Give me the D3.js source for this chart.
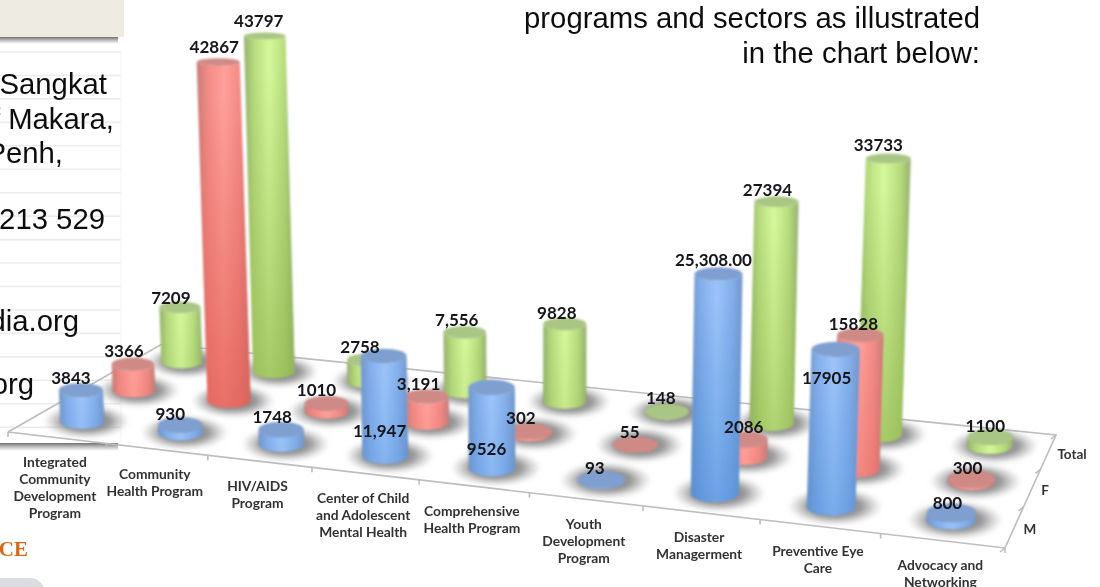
<!DOCTYPE html>
<html><head><meta charset="utf-8">
<script src="https://cdn.jsdelivr.net/npm/d3@7/dist/d3.min.js"></script>
<style>html,body{margin:0;padding:0;background:#fff;overflow:hidden}svg{display:block}</style>
</head><body><svg id="c" width="1100" height="587"></svg>
<script>
// ---- data ----
const categories = [
  ["Integrated","Community","Development","Program"],
  ["Community","Health Program"],
  ["HIV/AIDS","Program"],
  ["Center of Child","and Adolescent","Mental Health"],
  ["Comprehensive","Health Program"],
  ["Youth","Development","Program"],
  ["Disaster","Managerment"],
  ["Preventive Eye","Care"],
  ["Advocacy and","Networking"]
];
const rowNames = ["M","F","Total"];
const valuesM = [3843,930,1748,11947,9526,93,25308,17905,800];
const valuesF = [3366,42867,1010,3191,302,55,2086,15828,300];
const valuesTotal = [7209,43797,2758,7556,9828,148,27394,33733,1100];
const labelsM = ["3843","930","1748","11,947","9526","93","25,308.00","17905","800"];
const labelsF = ["3366","42867","1010","3,191","302","55","2086","15828","300"];
const labelsTotal = ["7209","43797","2758","7,556","9828","148","27394","33733","1100"];
// label nudges relative to the top of each cylinder [dx, dy]
const nudgeM = [[-10,-12],[-10,-11],[-9,-12],[-4,75],[-5,62],[-7,-12],[-5,-14],[-9,29],[-4,-10]];
const nudgeF = [[-9,-13],[-4,-15],[-10,-13],[-8,-12],[-9,-13],[-6,-12],[-1,-12],[-7,-11],[-4,-11]];
const nudgeTotal = [[-9,-9],[-6,-15],[-8,-13],[-8,-12],[-8,-11],[-6,-13],[-9,-12],[-10,-14],[-5,-11]];
const sideLines = [
  {t:"Sangkat",x:107,y:94},{t:"of Makara,",x:114,y:129},{t:"Penh,",x:63,y:163},
  {t:"213 529",x:105,y:229},{t:"dia.org",x:79,y:331},{t:"org",x:34,y:394}
];
const introLines = [{t:"programs and sectors as illustrated",y:28},{t:"in the chart below:",y:63}];

// ---- projection of the floor plane: unit square -> picture ----
const P00=[8,432],P10=[1005,548],P11=[1056,435],P01=[162,344];
const markShift=-2;
function homography(p0,p1,p2,p3){ // (0,0),(1,0),(1,1),(0,1)
  const dx1=p1[0]-p2[0],dx2=p3[0]-p2[0],sx=p0[0]-p1[0]+p2[0]-p3[0];
  const dy1=p1[1]-p2[1],dy2=p3[1]-p2[1],sy=p0[1]-p1[1]+p2[1]-p3[1];
  const den=dx1*dy2-dx2*dy1;
  const g=(sx*dy2-dx2*sy)/den,h=(dx1*sy-sx*dy1)/den;
  const a=p1[0]-p0[0]+g*p1[0],b=p3[0]-p0[0]+h*p3[0],c=p0[0];
  const d=p1[1]-p0[1]+g*p1[1],e=p3[1]-p0[1]+h*p3[1],f=p0[1];
  return (u,v)=>{const w=g*u+h*v+1;return [(a*u+b*v+c)/w,(d*u+e*v+f)/w];};
}
const project=homography(P00,P10,P11,P01);
const xBand=d3.scaleBand().domain(d3.range(categories.length)).range([0,1]);
const rowBand=d3.scaleBand().domain(rowNames).range([0,1]);
const heightPerValue=d3.scaleLinear().domain([370,510]).range([.00765,.0088]);
const radius=d3.scaleLinear().domain([360,530]).range([20.5,25]);
const flatness=d3.scaleLinear().domain([35,510]).range([.17,.38]).clamp(true);
const tilt=d3.scaleLinear().domain([550,1550]).range([0,.1]);
const bodyShade=d3.scaleLinear().domain([8,280]).range([.05,.85]).clamp(true);

const series=[
 {name:"Total",vals:valuesTotal,labs:labelsTotal,nudge:nudgeTotal,edge:"#96b072",mid:"#b6dc7c",hi:"#d6f89c",low:"#8fb24e",cap:"#aac684"},
 {name:"F",vals:valuesF,labs:labelsF,nudge:nudgeF,edge:"#c67c78",mid:"#f28a84",hi:"#ffa09a",low:"#dc5850",cap:"#cf8a86"},
 {name:"M",vals:valuesM,labs:labelsM,nudge:nudgeM,edge:"#7496c8",mid:"#82aeea",hi:"#9cc4fa",low:"#4284d2",cap:"#7f9fd0"}
];
const marks=series.map(s=>s.vals.map((v,i)=>{
  const [px,by]=project(xBand(i)+xBand.bandwidth()/2,rowBand(s.name)+rowBand.bandwidth()/2);
  const bx=px+markShift;
  const h=v*heightPerValue(by),rx=radius(by);
  const tx=bx+tilt(bx)*h,ty=by-h;
  return {s,i,v,lab:s.labs[i],bx,by,h,rx,tx,ty,ryB:rx*flatness(by),ryT:rx*flatness(ty),n:s.nudge[i]};
}));

const svg=d3.select("#c");
const defs=svg.append("defs");
defs.append("filter").attr("id","soft").append("feGaussianBlur").attr("stdDeviation",.8);
defs.append("filter").attr("id","softer").append("feGaussianBlur").attr("stdDeviation",2);
defs.append("filter").attr("id","softT").append("feGaussianBlur").attr("stdDeviation",.45);
const sh=defs.append("radialGradient").attr("id","shadow");
sh.append("stop").attr("offset","0").attr("stop-color","#777").attr("stop-opacity",.95);
sh.append("stop").attr("offset",".55").attr("stop-color","#858585").attr("stop-opacity",.85);
sh.append("stop").attr("offset","1").attr("stop-color","#aaa").attr("stop-opacity",0);
const panelSh=defs.append("linearGradient").attr("id","pshadow").attr("x2",0).attr("y2",1);
panelSh.append("stop").attr("offset",0).attr("stop-color","#555").attr("stop-opacity",.85);
panelSh.append("stop").attr("offset",1).attr("stop-color","#888").attr("stop-opacity",0);
series.forEach(s=>{
  const g=defs.append("linearGradient").attr("id","body"+s.name);
  [[0,s.edge],[.2,s.mid],[.5,s.hi],[.8,s.mid],[1,s.edge]].forEach(([o,c])=>g.append("stop").attr("offset",o).attr("stop-color",c));
  const o=defs.append("linearGradient").attr("id","over"+s.name).attr("x2",0).attr("y2",1);
  o.append("stop").attr("offset",.1).attr("stop-color",s.low).attr("stop-opacity",0);
  o.append("stop").attr("offset",1).attr("stop-color",s.low).attr("stop-opacity",.78);
});

// ---- page fragments behind the chart ----
const page=svg.append("g").attr("filter","url(#softT)");
page.append("rect").attr("x",0).attr("y",37).attr("width",118).attr("height",7).attr("fill","url(#pshadow)");
page.append("rect").attr("x",0).attr("y",0).attr("width",124).attr("height",37).attr("fill","#eeece2");
page.append("rect").attr("x",0).attr("y",443).attr("width",118).attr("height",8).attr("fill","url(#pshadow)");
page.selectAll("line.rule").data(d3.range(52,440,23.45)).join("line").attr("class","rule")
  .attr("x1",0).attr("x2",121).attr("y1",d=>d).attr("y2",d=>d).attr("stroke","#ececec").attr("stroke-width",1.6);
page.append("line").attr("x1",121).attr("x2",121).attr("y1",52).attr("y2",443).attr("stroke","#f4f4f4");
page.selectAll("text.side").data(sideLines).join("text").attr("class","side")
  .attr("x",d=>d.x).attr("y",d=>d.y).attr("text-anchor","end")
  .attr("font-family","'Liberation Sans',Arial,sans-serif").attr("font-size",29.3).attr("fill","#111").text(d=>d.t);
page.selectAll("text.intro").data(introLines).join("text").attr("class","intro")
  .attr("x",980).attr("y",d=>d.y).attr("text-anchor","end")
  .attr("font-family","'Liberation Sans',Arial,sans-serif").attr("font-size",29.3).attr("fill","#111").text(d=>d.t);
page.append("text").attr("x",28).attr("y",556).attr("text-anchor","end")
  .attr("font-family","'Liberation Serif',serif").attr("font-weight","bold").attr("font-size",21).attr("fill","#d2691e").text("CE");
page.append("rect").attr("x",-25).attr("y",578).attr("width",70).attr("height",30).attr("rx",15).attr("fill","#dcdde0");

// ---- floor ----
const floor=svg.append("g").attr("stroke","#bdbdbd").attr("fill","none").attr("stroke-width",1.6).attr("filter","url(#softT)");
floor.append("path").attr("d",d3.line()([P00,P10,P11,P01,P00]));
d3.range(categories.length+1).forEach(i=>{
  const u=i/categories.length,p=project(u,0);
  floor.append("line").attr("x1",p[0]).attr("x2",p[0]).attr("y1",p[1]).attr("y2",p[1]+5);
});
d3.range(rowNames.length+1).forEach(j=>{
  const p=project(1,j/rowNames.length);
  floor.append("line").attr("x1",p[0]).attr("x2",p[0]-5).attr("y1",p[1]).attr("y2",p[1]+4);
});

// ---- shadows, cylinders ----
const all=marks.flat();
svg.append("g").attr("filter","url(#softer)").selectAll("ellipse").data(all).join("ellipse")
  .attr("cx",d=>d.bx+4).attr("cy",d=>d.by).attr("rx",d=>d.rx*1.95).attr("ry",d=>d.rx*.78)
  .attr("fill","url(#shadow)");
const bodyPath=d=>`M${d.tx-d.rx},${d.ty}A${d.rx},${d.ryT} 0 0 0 ${d.tx+d.rx},${d.ty}L${d.bx+d.rx},${d.by}A${d.rx},${d.ryB} 0 0 1 ${d.bx-d.rx},${d.by}Z`;
const cyl=svg.append("g").attr("filter","url(#soft)").selectAll("g").data(all).join("g");
cyl.append("path").attr("d",bodyPath).attr("fill",d=>`url(#body${d.s.name})`);
cyl.append("path").attr("d",bodyPath).attr("fill",d=>`url(#over${d.s.name})`).attr("opacity",d=>bodyShade(d.h));
cyl.append("ellipse").attr("cx",d=>d.tx).attr("cy",d=>d.ty).attr("rx",d=>d.rx).attr("ry",d=>d.ryT).attr("fill",d=>d.s.cap);

// ---- texts ----
const font="Lato,'Open Sans',sans-serif";
svg.append("g").attr("filter","url(#softT)").selectAll("text").data(all).join("text")
  .attr("x",d=>d.tx+d.n[0]).attr("y",d=>d.ty+d.n[1]).attr("dy",".35em").attr("text-anchor","middle")
  .attr("font-family",font).attr("font-weight",700).attr("font-size",17).attr("fill","#14141a").text(d=>d.lab);
const catG=svg.append("g").attr("filter","url(#softT)");
categories.forEach((lines,i)=>{
  const p=project(xBand(i)+xBand.bandwidth()/2,0);
  lines.forEach((l,k)=>catG.append("text").attr("x",p[0]+markShift).attr("y",p[1]+24.5+k*17).attr("dy",".35em")
    .attr("text-anchor","middle").attr("font-family",font).attr("font-weight",700).attr("font-size",13.8).attr("fill","#333").text(l));
});
rowNames.forEach(r=>{
  const p=project(1,rowBand(r)+rowBand.bandwidth()/2);
  catG.append("text").attr("x",p[0]+9).attr("y",p[1]+2).attr("dy",".35em").attr("text-anchor","start")
    .attr("font-family",font).attr("font-weight",700).attr("font-size",13.5).attr("fill","#333").text(r);
});
</script></body></html>
